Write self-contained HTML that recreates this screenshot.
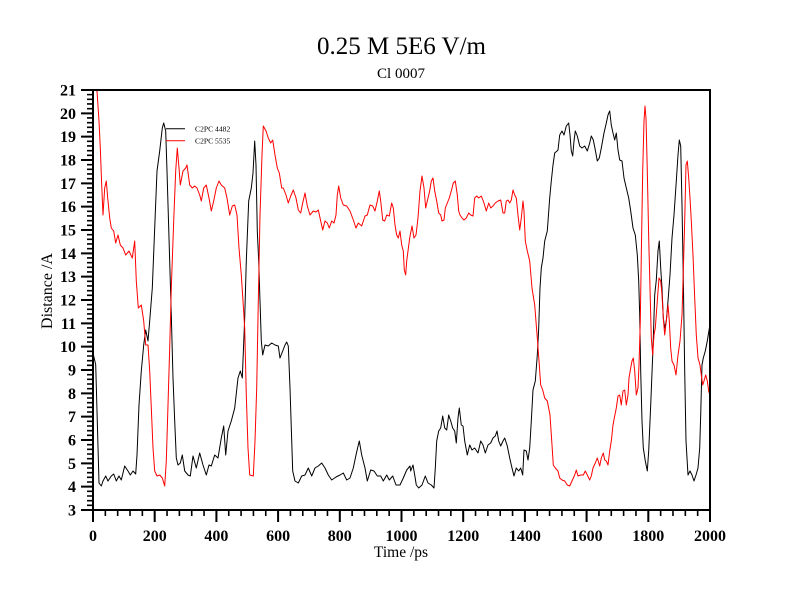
<!DOCTYPE html>
<html>
<head>
<meta charset="utf-8">
<style>
html,body{margin:0;padding:0;background:#fff;}
svg{display:block;}
text{font-family:"Liberation Serif","Times New Roman",serif;fill:#000;}
</style>
</head>
<body>
<svg width="800" height="600" viewBox="0 0 800 600" xmlns="http://www.w3.org/2000/svg">
<rect x="0" y="0" width="800" height="600" fill="#fff"/>
<defs>
<clipPath id="pc"><rect x="93" y="90" width="617" height="420"/></clipPath>
</defs>

<!-- Titles -->
<text x="401.5" y="54" font-size="25" text-anchor="middle">0.25 M 5E6 V/m</text>
<text x="401" y="78" font-size="15" text-anchor="middle">Cl 0007</text>

<!-- Data -->
<g clip-path="url(#pc)" fill="none" stroke-width="1" stroke-linejoin="round">
<polyline stroke="#000" points="93,353 95.7,364.7 97,411 99,483 101.3,486 103,481 105.7,476 108,481 111.3,476 113.7,474 116.3,481 119,476 121.3,480 124.7,466 128,471 130.3,475 133,471 135.7,474 137,455 139,405 141.3,371 143.7,345 145.7,330 148,341 149.7,321 152.3,288 154.7,228 157,171 159.7,151 162.3,128 163.7,123 165.7,131 167,171 169,238 171.3,315 173,378 174.7,421 176.3,458 178,465 180.3,463 182.3,455 184.7,471 188,475 190.3,476 193,456 196.3,468 199.7,453 203,465 206.3,475 209,465 211.3,466 214.7,455 218,458 221.3,438 223.7,426 225.7,455 228,431 231.3,421 234.7,408 238,378 240.3,371 242.3,378 244.7,318 246.3,261 248.7,201 251.3,188 253,173 254.7,141 256,165 257.3,231 258.7,261 260,301 261.3,341 262.7,355 265,345 268.3,346 271.7,343 275,345 278.3,346 280,358 282.7,351 285,345 286.7,342 288.3,346 290,388 291.3,428 292.7,471 295,481 298.3,483 301.7,476 305,475 308.3,468 311.7,476 315,468 318.3,466 321.7,463 325,468 328.3,475 331.7,480 336,477 340,475 343.3,473 346.7,480 350,478 353.3,468 356,455 358.3,445 359.3,441 361.7,455 365,468 367.3,481 370.7,470 374,471 377.3,476 380.7,476 383.3,481 386.7,475 389.3,480 392.7,476 396,485 400,485 403.3,478 406.7,470 410,466 410.7,471 413,465 414.7,475 416.3,485 418.7,488 422,485 425.3,476 428,483 431.3,485 434,488 435.3,468 436.7,441 438.7,431 440.7,428 442.7,416 444.7,428 446.7,430 448.7,415 450.7,421 452.7,428 454.7,431 456.3,443 458,418 459.3,408 461.3,425 463,426 464.7,441 467.3,455 469.7,445 472,450 474.7,448 478,453 480.7,441 483,445 485.3,453 488,445 490.7,443 493,438 495.3,436 497,431 498.7,441 500.7,446 503,441 504.7,438 507.3,446 509.7,458 512,468 514,476 516.3,468 518.7,471 520.7,468 522.7,475 524,450 526.3,451 528,460 529.7,448 531.3,421 533,390 535.3,381 537.3,355 538.7,328 540,288 541.3,268 543,258 544.7,241 547.3,231 549.7,198 551.3,181 553,165 554.7,153 557,151 558,150 559.7,135 562,131 564,135 566.3,126 568.7,123 570,135 571.3,151 572.7,156 574,141 575.3,131 577.3,136 579.7,146 582,148 584.7,146 587.3,151 589.7,143 591.3,136 593.3,140 595.3,150 597.3,161 599.3,158 601.3,148 604,133 606.3,123 608,115 609.7,111 611.3,125 613,133 614.7,140 616.3,133 618,150 619.7,160 622,161 624,178 626.3,188 628.7,198 630.7,211 633,228 635.3,235 637.3,255 638.7,281 639.7,315 640.7,371 642,421 643.3,448 645.3,461 647.3,471 648.7,451 650.7,405 653,348 654.7,295 656.3,280 658,251 659.3,241 660.7,268 662,288 663.3,318 664.7,328 666.3,321 668,301 670,275 672,238 674,215 676.3,181 678,155 679.3,140 680.7,146 682,205 683.3,278 684.7,371 686,441 688,475 690,471 692,475 694,481 696,475 698,468 699.7,448 700.7,415 702,365 703.3,358 705.3,351 707.3,341 709.7,326 711,320"/>
<polyline stroke="#ff0000" points="95,90 97,91 99,121 100.3,148 101.7,185 103,215 104.7,188 106.3,181 107.7,198 109.7,218 111.3,228 113.7,231 115.7,243 118,235 120.3,245 123,248 125.7,255 129,251 132.3,258 134.7,241 136.3,281 138.3,308 141.3,305 143.7,321 145.7,345 148,345 149.7,371 151.3,408 153,448 154.7,471 157,476 159.7,475 162.3,478 164.7,486 166.3,461 168,405 169.7,348 171.3,288 173.7,221 175.7,171 177.3,148 179,168 180.3,185 183,171 185.7,168 187,165 189.7,185 192.3,188 194.7,186 197,188 199.7,195 201.3,201 203.7,188 206.3,185 209,198 211.3,211 213.7,201 216.3,188 219,181 221.3,185 224.7,188 227,198 229.7,215 232.3,206 234.7,205 237,215 239,248 241.3,275 243,301 244.7,328 246.3,395 248,448 249.7,475 253.3,476 255,441 256.7,388 258.3,301 260,215 262,155 263.3,126 266,131 268.3,138 270.7,143 272.7,140 275,155 277.3,168 279.3,173 281.7,188 283.3,188 286,195 288.3,203 290.7,196 293.3,190 296,198 298.3,210 300.7,213 302.7,203 305,193 307.3,206 310,215 313.3,211 316,212 318.3,210 320.7,221 322.7,230 325,221 327.3,223 329.3,228 331.7,221 334,223 336,215 337.3,195 338.7,186 340.7,198 343.3,205 346.7,206 350,211 353.3,220 356,228 358.3,223 361.7,226 365,216 367.3,215 370,205 372.7,206 375,211 377.3,201 379.3,191 380.7,201 382.7,220 384.7,221 386.7,215 389.3,216 391.7,203 393.3,208 395,225 396.7,235 398.3,238 400,231 401.7,245 403.3,251 404.3,270 405.7,275 406.7,261 408,251 409.7,238 412,226 414,238 416,235 418,218 420,191 422,176 424,188 425.7,208 427.3,201 429.7,191 431.3,181 433,178 434.7,191 436.7,201 438.7,213 440.7,215 442,221 444,220 445.3,208 447.3,203 449.3,198 451.3,191 453.3,183 455.3,181 457.3,195 458.7,211 460,215 462,218 464,220 466.3,218 468.7,213 470.7,215 473,216 474.7,198 476.7,196 478.7,198 481.3,196 484,203 486.3,211 488.7,203 490.7,208 493,206 495.3,203 498,201 500.7,200 503,213 504.7,213 506.3,201 508,200 509.7,203 511.3,200 513,190 514.7,195 516.3,198 518,215 519.7,230 521.3,218 523,201 524,211 525.3,241 527.3,251 529.7,261 532,288 534.7,305 537.3,338 539.3,365 540.7,385 542.7,390 544.7,398 547.3,401 550,415 552,445 553.3,465 555.3,468 558,471 559.7,478 562,480 564.7,481 567.3,485 569.7,486 572,481 574.7,475 576.3,470 578,476 580.7,475 583.3,475 585.3,471 587.3,475 589.7,480 591.3,476 593,468 595.3,463 597.3,458 599.7,466 601.3,458 603.3,453 604.7,460 606.3,461 608,465 609.7,451 611.3,441 613,425 614.7,416 616.3,408 618,396 619.7,395 621.3,405 623,391 624.7,390 626.3,405 628,395 629,378 630.7,368 632,361 633.3,358 634.7,371 636.3,395 638,388 639,365 640.3,321 641.3,255 642.7,171 644,121 645,106 646,118 647.3,171 648.7,238 650,288 651.3,338 652.7,355 654,335 655.3,328 657,305 659,278 660.7,281 662,295 663.3,318 664.7,335 666.3,321 668,305 669.3,321 670.7,348 672,361 674,365 676,375 678,355 680,341 682,315 683.3,271 684.7,221 686,165 687.3,161 688.7,178 690,198 691.3,221 693,255 694.7,298 696.3,335 698,358 700,365 701.3,375 702.7,385 704,381 705.7,375 707.3,381 708.7,391 710,396"/>
</g>

<!-- Legend -->
<line x1="166" y1="128.7" x2="185" y2="128.7" stroke="#000" stroke-width="1"/>
<line x1="166" y1="140.7" x2="185" y2="140.7" stroke="#ff0000" stroke-width="1"/>
<text x="195" y="131.5" font-size="7.6">C2PC 4482</text>
<text x="195" y="143.5" font-size="7.6">C2PC 5535</text>

<!-- Frame -->
<rect x="93" y="90" width="617" height="420" fill="none" stroke="#000" stroke-width="2"/>

<!-- X minor ticks -->
<line x1="92.2" y1="513" x2="711" y2="513" stroke="#000" stroke-width="6" stroke-dasharray="1.6 10.74"/>
<!-- X major ticks -->
<path d="M93,510V522 M154.7,510V522 M216.4,510V522 M278.1,510V522 M339.8,510V522 M401.5,510V522 M463.2,510V522 M524.9,510V522 M586.6,510V522 M648.3,510V522 M710,510V522" stroke="#000" stroke-width="2" fill="none"/>

<!-- Y minor ticks -->
<line x1="90" y1="510.8" x2="90" y2="89" stroke="#000" stroke-width="6" stroke-dasharray="1.6 3.067"/>
<!-- Y major ticks -->
<path d="M81,510H93 M81,486.67H93 M81,463.33H93 M81,440H93 M81,416.67H93 M81,393.33H93 M81,370H93 M81,346.67H93 M81,323.33H93 M81,300H93 M81,276.67H93 M81,253.33H93 M81,230H93 M81,206.67H93 M81,183.33H93 M81,160H93 M81,136.67H93 M81,113.33H93 M81,90H93" stroke="#000" stroke-width="2" fill="none"/>

<!-- X tick labels -->
<g font-size="16" font-weight="bold" text-anchor="middle">
<text x="93" y="541">0</text>
<text x="154.7" y="541">200</text>
<text x="216.4" y="541">400</text>
<text x="278.1" y="541">600</text>
<text x="339.8" y="541">800</text>
<text x="401.5" y="541">1000</text>
<text x="463.2" y="541">1200</text>
<text x="524.9" y="541">1400</text>
<text x="586.6" y="541">1600</text>
<text x="648.3" y="541">1800</text>
<text x="710" y="541">2000</text>
</g>

<!-- Y tick labels -->
<g font-size="16" font-weight="bold" text-anchor="end">
<text x="76" y="515.5">3</text>
<text x="76" y="492.2">4</text>
<text x="76" y="468.8">5</text>
<text x="76" y="445.5">6</text>
<text x="76" y="422.2">7</text>
<text x="76" y="398.8">8</text>
<text x="76" y="375.5">9</text>
<text x="76" y="352.2">10</text>
<text x="76" y="328.8">11</text>
<text x="76" y="305.5">12</text>
<text x="76" y="282.2">13</text>
<text x="76" y="258.8">14</text>
<text x="76" y="235.5">15</text>
<text x="76" y="212.2">16</text>
<text x="76" y="188.8">17</text>
<text x="76" y="165.5">18</text>
<text x="76" y="142.2">19</text>
<text x="76" y="118.8">20</text>
<text x="76" y="95.5">21</text>
</g>

<!-- Axis labels -->
<text x="401" y="557" font-size="15.5" text-anchor="middle">Time /ps</text>
<text transform="translate(52,291) rotate(-90)" x="0" y="0" font-size="16" text-anchor="middle">Distance /A</text>
</svg>
</body>
</html>
